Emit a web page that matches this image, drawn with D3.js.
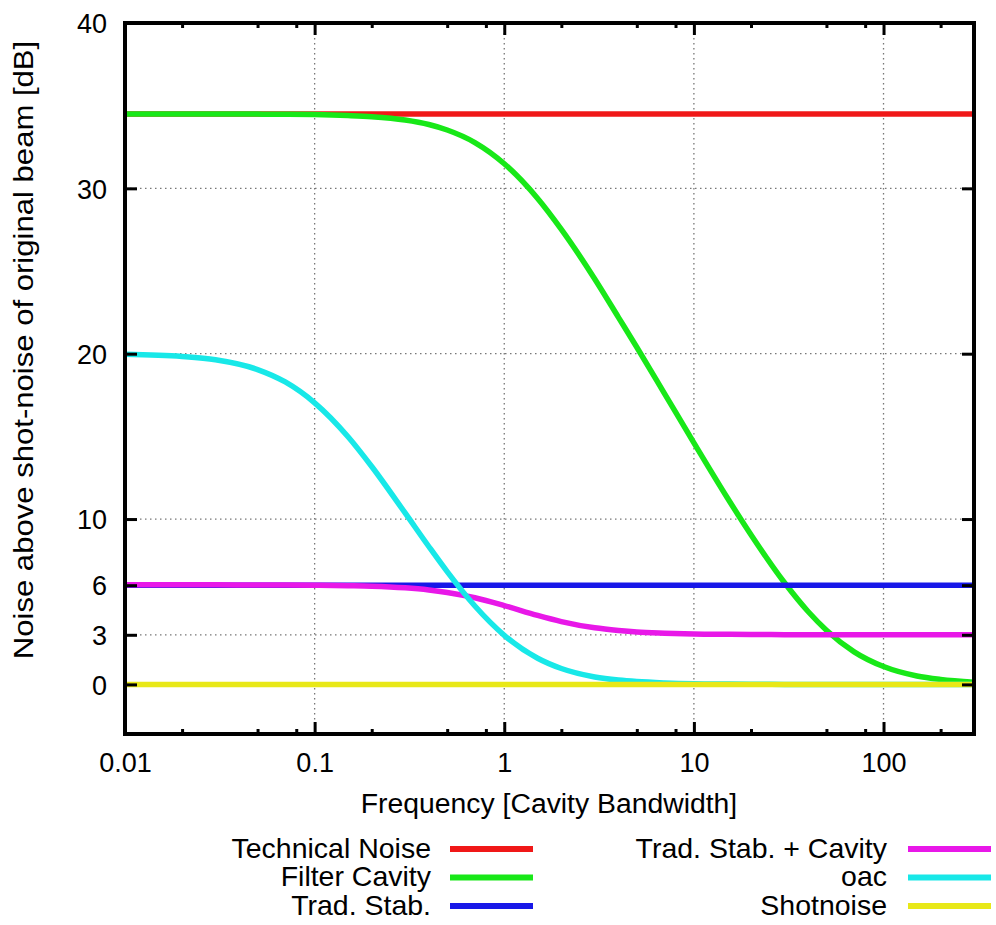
<!DOCTYPE html>
<html>
<head>
<meta charset="utf-8">
<script src="https://cdn.jsdelivr.net/npm/d3@7/dist/d3.min.js"></script>
<style>
  html, body { margin: 0; padding: 0; background: #fff; }
  svg { display: block; font-family: "Liberation Sans", Arial, Helvetica, sans-serif; }
</style>
</head>
<body>
<svg id="chart" width="996" height="925"></svg>
<script>
// ---------------- DATA ----------------
const freq = [0.01, 0.02, 0.03, 0.05, 0.07, 0.1, 0.15, 0.2, 0.3, 0.4, 0.5, 0.7, 1, 1.5, 2, 3, 4, 5, 7, 10, 15, 20, 30, 40, 50, 70, 100, 150, 200, 300];
const filterCavity = [34.5, 34.5, 34.5, 34.49, 34.48, 34.46, 34.4, 34.33, 34.13, 33.86, 33.53, 32.77, 31.49, 29.39, 27.52, 24.52, 22.2, 20.39, 17.59, 14.61, 11.29, 9.05, 6.16, 4.41, 3.28, 1.97, 1.08, 0.51, 0.3, 0.13];
const tradStabCavity = [6.02, 6.02, 6.02, 6.01, 6.01, 6.0, 5.97, 5.94, 5.84, 5.71, 5.56, 5.24, 4.77, 4.17, 3.8, 3.42, 3.26, 3.17, 3.1, 3.05, 3.03, 3.02, 3.01, 3.01, 3.01, 3.01, 3.01, 3.01, 3.01, 3.01];
const oac = [19.96, 19.83, 19.63, 19.04, 18.29, 17.03, 14.98, 13.18, 10.37, 8.34, 6.82, 4.74, 2.97, 1.58, 0.96, 0.45, 0.26, 0.17, 0.09, 0.04, 0.02, 0.01, 0, 0, 0, 0, 0, 0, 0, 0];
const flatFreq = [0.01, 300];
const technicalNoise = [34.5, 34.5];
const tradStab = [6, 6];
const shotNoise = [0, 0];

const xMajorTicks = [0.01, 0.1, 1, 10, 100];
const xTickLabels = ["0.01", "0.1", "1", "10", "100"];
const xMinorTicks = [0.02, 0.05, 0.08, 0.2, 0.5, 0.8, 2, 5, 8, 20, 50, 80, 200];
const yTicks = [0, 3, 6, 10, 20, 30, 40];
const yTickLabels = ["0", "3", "6", "10", "20", "30", "40"];

const seriesNames = ["Technical Noise", "Filter Cavity", "Trad. Stab.", "Trad. Stab. + Cavity", "oac", "Shotnoise"];
const seriesColors = ["#f01818", "#18e818", "#1818e8", "#e818e8", "#18e8e8", "#e8e818"];

const xTitle = "Frequency [Cavity Bandwidth]";
const yTitle = "Noise above shot-noise of original beam [dB]";

// ---------------- LAYOUT ----------------
const svg = d3.select("#chart");
const L = 125, R = 974, T = 23, B = 734;
const x = d3.scaleLog().domain([0.01, 300]).range([L, R]);
const y = d3.scaleLinear().domain([-3, 40]).range([B, T]);
const FS = 27;

const series = [
  { xs: flatFreq, ys: technicalNoise },
  { xs: freq, ys: filterCavity },
  { xs: flatFreq, ys: tradStab },
  { xs: freq, ys: tradStabCavity },
  { xs: freq, ys: oac },
  { xs: flatFreq, ys: shotNoise }
].map((s, i) => ({ ...s, name: seriesNames[i], color: seriesColors[i] }));

// grid
const grid = svg.append("g").attr("stroke", "#777").attr("stroke-width", 1.3).attr("stroke-dasharray", "1.5,3.5");
grid.selectAll("line.gx").data(xMajorTicks.filter(d => d > 0.01)).join("line")
  .attr("x1", d => x(d)).attr("x2", d => x(d)).attr("y1", T).attr("y2", B);
grid.selectAll("line.gy").data(yTicks.filter(d => d < 40)).join("line")
  .attr("x1", L).attr("x2", R).attr("y1", d => y(d)).attr("y2", d => y(d));

// curves
svg.append("clipPath").attr("id", "clip").append("rect")
  .attr("x", L).attr("y", T).attr("width", R - L).attr("height", B - T);
const line = d3.line().curve(d3.curveMonotoneX);
const curves = svg.append("g").attr("clip-path", "url(#clip)");
series.forEach(s => {
  const pts = s.xs.map((f, i) => [x(f), y(s.ys[i])]);
  curves.append("path").attr("d", line(pts)).attr("fill", "none")
    .attr("stroke", s.color).attr("stroke-width", 5.5).attr("stroke-linecap", "butt");
});

// axes
function styleAxis(g) {
  g.select(".domain").remove();
  g.selectAll(".tick line").attr("stroke", "#000").attr("stroke-width", 3);
}
svg.append("g").attr("transform", `translate(0,${B})`)
  .call(d3.axisBottom(x).tickValues(xMajorTicks).tickFormat((d, i) => xTickLabels[i]).tickSizeInner(-12).tickSizeOuter(0))
  .call(styleAxis)
  .call(g => g.selectAll(".tick text").attr("y", 38).attr("dy", 0).attr("font-size", FS).attr("fill", "#000")
    .attr("font-family", "Liberation Sans, Arial, sans-serif"));
svg.append("g").attr("transform", `translate(0,${B})`)
  .call(d3.axisBottom(x).tickValues(xMinorTicks).tickFormat("").tickSizeInner(-5).tickSizeOuter(0))
  .call(styleAxis);
svg.append("g").attr("transform", `translate(0,${T})`)
  .call(d3.axisTop(x).tickValues(xMajorTicks).tickFormat("").tickSizeInner(-12).tickSizeOuter(0))
  .call(styleAxis);
svg.append("g").attr("transform", `translate(0,${T})`)
  .call(d3.axisTop(x).tickValues(xMinorTicks).tickFormat("").tickSizeInner(-5).tickSizeOuter(0))
  .call(styleAxis);
svg.append("g").attr("transform", `translate(${L},0)`)
  .call(d3.axisLeft(y).tickValues(yTicks).tickFormat((d, i) => yTickLabels[i]).tickSizeInner(-12).tickSizeOuter(0))
  .call(styleAxis)
  .call(g => g.selectAll(".tick text").attr("x", -18).attr("dy", "0.36em").attr("font-size", FS).attr("fill", "#000")
    .attr("font-family", "Liberation Sans, Arial, sans-serif"));
svg.append("g").attr("transform", `translate(${R},0)`)
  .call(d3.axisRight(y).tickValues(yTicks).tickFormat("").tickSizeInner(-12).tickSizeOuter(0))
  .call(styleAxis);

// frame
svg.append("rect").attr("x", L).attr("y", T).attr("width", R - L).attr("height", B - T)
  .attr("fill", "none").attr("stroke", "#000").attr("stroke-width", 4);

// titles
svg.append("g").attr("transform", "translate(549,813) scale(1.05,1)")
  .append("text").attr("text-anchor", "middle").attr("font-size", FS).text(xTitle);
svg.append("g").attr("transform", "translate(33,350) rotate(-90) scale(1.11,1)")
  .append("text").attr("text-anchor", "middle").attr("font-size", 28).text(yTitle);

// legend
const legend = svg.append("g");
series.forEach((s, i) => {
  const col = Math.floor(i / 3), row = i % 3;
  const textRight = col === 0 ? 431 : 887;
  const lineX1 = col === 0 ? 450 : 908;
  const ly = 849 + row * 28.5;
  legend.append("g").attr("transform", `translate(${textRight},${ly + 8.5}) scale(1.055,1)`)
    .append("text").attr("text-anchor", "end").attr("font-size", FS).text(s.name);
  legend.append("line").attr("x1", lineX1).attr("x2", lineX1 + 83).attr("y1", ly).attr("y2", ly)
    .attr("stroke", s.color).attr("stroke-width", 6);
});
</script>
</body>
</html>
